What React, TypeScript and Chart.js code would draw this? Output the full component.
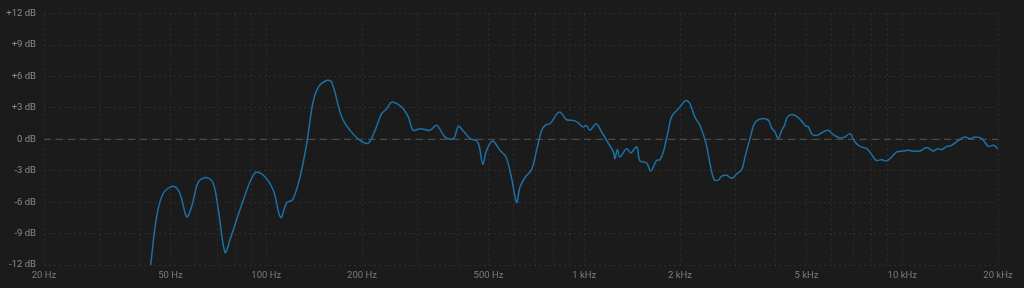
import React, { useEffect, useRef } from "react";
import { Chart, registerables } from "chart.js";

Chart.register(...registerables);

const freqs = [
  43.3, 45.2, 47.4, 51.0, 53.5, 56.2, 58.3, 61.2, 65.0, 68.1, 70.7, 74.2, 76.9, 84.7, 92.1, 97.9,
  105.2, 111.0, 115.9, 121.1, 127.7, 134.0, 140.0, 145.8, 154.9, 160.6, 170.6, 174.7, 183.3, 197.1,
  209.4, 219.8, 230.6, 239.2, 248.0, 266.7, 279.7, 289.9, 304.3, 327, 343.6, 364.9, 387.6, 402,
  416.8, 437.6, 459.5, 468, 479.6, 493, 515, 543, 567.5, 591, 613, 628, 656, 683, 708, 734.9, 758,
  780, 834.7, 880.6, 923.8, 955, 993, 1015, 1042, 1089, 1134, 1190, 1234, 1249, 1270, 1295, 1359,
  1400, 1462, 1497, 1571, 1617, 1690, 1730, 1773, 1838, 1884, 2000, 2085, 2149, 2229, 2312, 2416,
  2485, 2560, 2638, 2705, 2806, 2873, 2940, 3000, 3126, 3202, 3320, 3443, 3614, 3794, 3885, 3980,
  4074, 4176, 4260, 4350, 4490, 4655, 4826, 4980, 5060, 5188, 5383, 5644, 5853, 6069, 6370, 6600,
  6853, 7100, 7365, 7730, 8015, 8270, 8620, 8930, 9263, 9604, 10070, 10440, 10900, 11370, 11940,
  12520, 12900, 13300, 13800, 14300, 15010, 15750, 16330, 16940, 17780, 18650, 19350, 19970,
];

const gains = [
  -12.0, -7.4, -5.17, -4.48, -5.17, -7.4, -6.4, -4.06, -3.65, -4.2, -6.76, -10.8, -9.6, -5.8, -3.2,
  -3.43, -4.86, -7.46, -6.06, -5.75, -3.59, -0.41, 3.4, 4.98, 5.62, 5.46, 2.6, 1.81, 0.86, -0.1,
  -0.35, 0.86, 2.45, 2.92, 3.55, 3.08, 2.12, 0.86, 1.02, 0.86, 1.33, 0.22, 0.07, 1.24, 0.79, 0.07,
  -0.16, -0.73, -2.38, -1.05, -0.16, -1.05, -1.69, -3.74, -6.03, -4.54, -3.52, -2.89, -1.05, 0.86,
  1.4, 1.49, 2.6, 1.87, 1.81, 1.59, 1.17, 1.33, 0.86, 1.49, 0.7, -0.35, -1.2, -1.84, -0.98, -1.69,
  -0.89, -1.3, -0.73, -2.06, -2.26, -3.02, -2.0, -1.94, -1.2, 0.86, 2.19, 3.08, 3.71, 3.4, 2.12,
  1.33, -0.41, -2.31, -3.84, -3.9, -3.52, -3.43, -3.65, -3.68, -3.36, -2.89, -1.69, 0.07, 1.59,
  1.97, 1.81, 1.08, 0.7, 0.07, 0.86, 1.33, 2.12, 2.38, 2.19, 1.74, 1.24, 1.24, 0.54, 0.38, 0.7,
  0.86, 0.45, 0.13, 0.22, 0.54, -0.25, -0.67, -0.89, -1.46, -2.0, -1.94, -2.06, -1.69, -1.2, -1.11,
  -1.05, -1.14, -1.11, -0.79, -1.11, -0.89, -0.98, -0.67, -0.57, -0.1, 0.22, 0.07, 0.22, 0.07,
  -0.67, -0.57, -0.89,
];

const gridFreqs = [
  20, 30, 40, 50, 60, 70, 80, 90, 100, 200, 300, 400, 500, 600, 700, 800, 900, 1000, 2000, 3000,
  4000, 5000, 6000, 7000, 8000, 9000, 10000, 20000,
];
const labelledFreqs = [20, 50, 100, 200, 500, 1000, 2000, 5000, 10000, 20000];
const labelNames = ["20 Hz", "50 Hz", "100 Hz", "200 Hz", "500 Hz", "1 kHz", "2 kHz", "5 kHz", "10 kHz", "20 kHz"];
const zeroLine = [
  { x: 20, y: 0 },
  { x: 20000, y: 0 },
];

const BG = "#1b1b1b";

export default function App() {
  const ref = useRef<HTMLCanvasElement>(null);
  useEffect(() => {
    document.body.style.margin = "0";
    document.body.style.background = BG;
    const ctx = ref.current!;
    const chart = new Chart(ctx, {
      type: "line",
      data: {
        datasets: [
          {
            data: freqs.map((f, i) => ({ x: f, y: gains[i] })),
            borderColor: "#1c70a6",
            borderWidth: 1.5,
            pointRadius: 0,
            tension: 0.35,
            fill: false,
            order: 1,
          },
          {
            data: zeroLine,
            borderColor: "#4a4a4a",
            borderWidth: 1.2,
            borderDash: [7, 5],
            pointRadius: 0,
            fill: false,
            order: 2,
          },
        ],
      },
      options: {
        animation: false,
        responsive: false,
        maintainAspectRatio: false,
        layout: { padding: { top: 13, right: 26, left: 0, bottom: 0 } },
        plugins: { legend: { display: false }, tooltip: { enabled: false } },
        scales: {
          x: {
            type: "logarithmic",
            min: 20,
            max: 20000,
            afterBuildTicks: (axis: any) => {
              axis.ticks = gridFreqs.map((v) => ({ value: v }));
            },
            afterFit: (axis: any) => {
              axis.height = 23;
            },
            ticks: {
              autoSkip: false,
              maxRotation: 0,
              padding: 5,
              color: "#7c7c7c",
              font: { family: "Roboto", size: 9.5 },
              callback: (v: any) => {
                const idx = labelledFreqs.indexOf(Number(v));
                return idx >= 0 ? labelNames[idx] : "";
              },
            },
            grid: { color: "#2d2d2d", drawTicks: false, lineWidth: 1 },
            border: { display: false, dash: [2, 3] },
          },
          y: {
            min: -12,
            max: 12,
            afterFit: (axis: any) => {
              axis.width = 44;
            },
            ticks: {
              stepSize: 3,
              padding: 8,
              color: "#8a8a8a",
              font: { family: "Roboto", size: 9.5 },
              callback: (v: any) => (v > 0 ? `+${v} dB` : `${v} dB`),
            },
            grid: { color: "#2d2d2d", drawTicks: false, lineWidth: 1 },
            border: { display: false, dash: [2, 3] },
          },
        },
      },
    });
    return () => chart.destroy();
  }, []);
  return (
    <div style={{ width: 1024, height: 288, background: BG }}>
      <canvas ref={ref} width={1024} height={288} style={{ display: "block" }} />
    </div>
  );
}
